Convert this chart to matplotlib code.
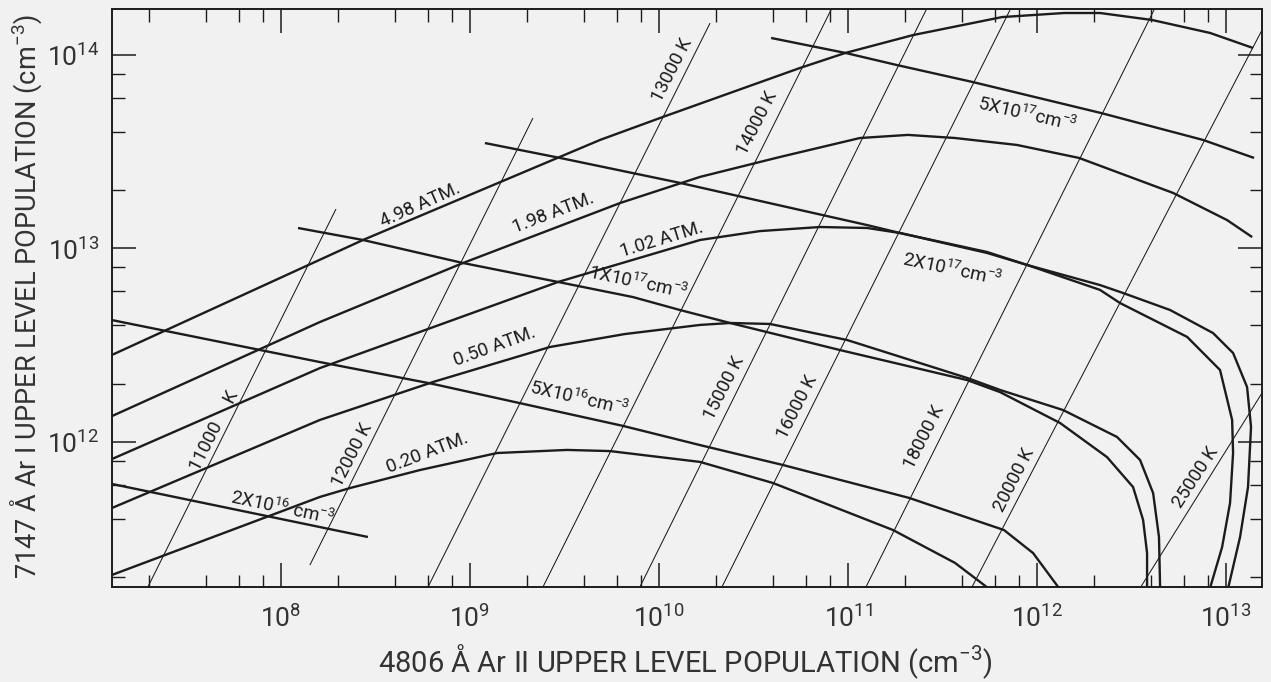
import matplotlib
matplotlib.use("Agg")
import matplotlib.pyplot as plt
import numpy as np
from matplotlib.ticker import LogLocator, FuncFormatter, NullFormatter

# all populations stored as log10(cm^-3)
# x: 4806 A Ar II upper level, y: 7147 A Ar I upper level

# --- constant pressure curves ---
ATM_498_X = [7.106, 8.434, 9.688, 10.021, 10.746, 10.984, 11.344, 11.815, 12.143, 12.333, 12.608, 12.915, 13.143]
ATM_498_Y = [12.450, 13.044, 13.561, 13.680, 13.933, 14.010, 14.103, 14.196, 14.217, 14.217, 14.181, 14.114, 14.036]

ATM_198_X = [7.106, 8.206, 8.963, 9.794, 10.217, 10.640, 11.063, 11.317, 11.566, 11.894, 12.222, 12.720, 13.005, 13.138]
ATM_198_Y = [12.134, 12.620, 12.925, 13.235, 13.370, 13.473, 13.571, 13.587, 13.571, 13.535, 13.468, 13.287, 13.147, 13.059]

ATM_102_X = [7.106, 8.206, 9.466, 10.217, 10.534, 10.852, 11.101, 11.275, 11.735, 11.947, 12.333, 12.455,
             12.704, 12.931, 13.037, 13.111, 13.132, 13.116, 13.074, 13.011]
ATM_102_Y = [11.912, 12.382, 12.827, 13.044, 13.090, 13.111, 13.106, 13.080, 12.977, 12.915, 12.811, 12.770,
             12.682, 12.563, 12.460, 12.284, 12.078, 11.767, 11.509, 11.245]

ATM_050_X = [7.106, 8.206, 8.804, 9.423, 9.820, 10.217, 10.376, 10.587, 10.995, 11.630, 11.804, 12.138,
             12.423, 12.545, 12.614, 12.645, 12.651]
ATM_050_Y = [11.659, 12.114, 12.310, 12.491, 12.558, 12.605, 12.615, 12.610, 12.527, 12.331, 12.269, 12.165,
             12.026, 11.907, 11.736, 11.509, 11.245]

ATM_020_X = [7.106, 8.206, 8.365, 8.735, 9.143, 9.513, 9.741, 10.217, 10.603, 11.238, 11.566, 11.741]
ATM_020_Y = [11.313, 11.716, 11.762, 11.855, 11.943, 11.959, 11.953, 11.897, 11.788, 11.545, 11.375, 11.245]

# --- constant electron density curves ---
NE_2E16_X = [7.106, 8.460]
NE_2E16_Y = [11.783, 11.509]

NE_5E16_X = [7.106, 8.206, 8.804, 9.810, 10.217, 10.656, 11.323, 11.825, 11.979, 12.116]
NE_5E16_Y = [12.630, 12.413, 12.300, 12.083, 11.984, 11.881, 11.711, 11.545, 11.426, 11.245]

NE_1E17_X = [8.090, 8.434, 8.963, 9.466, 9.862, 10.111, 10.376, 10.958, 11.630, 11.804, 12.122,
             12.370, 12.508, 12.561, 12.582, 12.582]
NE_1E17_Y = [13.106, 13.044, 12.925, 12.827, 12.749, 12.682, 12.615, 12.475, 12.320, 12.258, 12.098,
             11.922, 11.767, 11.597, 11.426, 11.245]

NE_2E17_X = [9.079, 9.476, 10.111, 10.746, 11.101, 11.275, 11.735, 11.947, 12.333, 12.439, 12.794,
             12.968, 13.032, 13.037, 13.021, 12.979, 12.915]
NE_2E17_Y = [13.545, 13.468, 13.339, 13.199, 13.121, 13.080, 12.982, 12.915, 12.786, 12.718, 12.543,
             12.372, 12.114, 11.943, 11.685, 11.457, 11.245]

NE_5E17_X = [10.593, 10.989, 11.259, 11.661, 12.339, 12.878, 13.148]
NE_5E17_Y = [14.088, 14.010, 13.948, 13.860, 13.700, 13.561, 13.468]

# --- isotherms (straight on log-log), end points ---
TEMPS = ["11000", "12000", "13000", "14000", "15000", "16000", "18000", "20000", "25000"]
T_X0 = [7.296, 8.153, 8.778, 9.386, 9.899, 10.333, 11.095, 11.656, 12.545]
T_Y0 = [11.251, 11.364, 11.251, 11.251, 11.251, 11.251, 11.251, 11.251, 11.245]
T_X1 = [8.291, 9.333, 10.270, 10.910, 11.413, 11.857, 12.619, 13.190, 13.190]
T_Y1 = [13.204, 13.674, 14.165, 14.233, 14.233, 14.233, 14.233, 14.129, 12.253]

X_DECADES = [8, 9, 10, 11, 12, 13]
Y_DECADES = [12, 13, 14]
X_RANGE = (7.106, 13.190)
Y_RANGE = (11.2506, 14.2377)

BG = "#f1f1f1"
INK = "#1c1c1c"
FONT = ["Roboto", "DejaVu Sans"]


def _curve(ax, lx, ly, lw=1.7):
    ax.plot(10 ** np.array(lx), 10 ** np.array(ly), color=INK, lw=lw,
            solid_capstyle="butt", solid_joinstyle="round")


def _label(ax, lx, ly, text, rot, size=13.5):
    ax.text(10 ** lx, 10 ** ly, text, rotation=rot, rotation_mode="anchor",
            ha="center", va="center", fontsize=size, color=INK, family=FONT)


def main() -> None:
    plt.rcParams["font.family"] = FONT
    plt.rcParams["mathtext.default"] = "regular"

    fig = plt.figure(figsize=(12.71, 6.82), dpi=100)
    fig.set_facecolor(BG)
    ax = fig.add_axes([112 / 1271, 1 - 587 / 682, 1150 / 1271, 578 / 682])
    ax.set_facecolor(BG)
    ax.set_xscale("log")
    ax.set_yscale("log")
    ax.set_xlim(10 ** X_RANGE[0], 10 ** X_RANGE[1])
    ax.set_ylim(10 ** Y_RANGE[0], 10 ** Y_RANGE[1])

    # isotherms, thin
    for x0, y0, x1, y1 in zip(T_X0, T_Y0, T_X1, T_Y1):
        _curve(ax, [x0, x1], [y0, y1], lw=0.75)

    for lx, ly in [(ATM_498_X, ATM_498_Y), (ATM_198_X, ATM_198_Y), (ATM_102_X, ATM_102_Y),
                   (ATM_050_X, ATM_050_Y), (ATM_020_X, ATM_020_Y),
                   (NE_2E16_X, NE_2E16_Y), (NE_5E16_X, NE_5E16_Y), (NE_1E17_X, NE_1E17_Y),
                   (NE_2E17_X, NE_2E17_Y), (NE_5E17_X, NE_5E17_Y)]:
        _curve(ax, lx, ly)

    # pressure labels
    _label(ax, 8.735, 13.225, "4.98 ATM.", 24)
    _label(ax, 9.439, 13.183, "1.98 ATM.", 21)
    _label(ax, 10.016, 13.044, "1.02 ATM.", 17)
    _label(ax, 9.132, 12.491, "0.50 ATM.", 20)
    _label(ax, 8.772, 11.943, "0.20 ATM.", 21)

    # density labels
    _label(ax, 8.005, 11.659, r"2X10$^{16}$ cm$^{-3}$", -12)
    _label(ax, 9.577, 12.227, r"5X10$^{16}$cm$^{-3}$", -13)
    _label(ax, 9.889, 12.822, r"1X10$^{17}$cm$^{-3}$", -12)
    _label(ax, 11.550, 12.889, r"2X10$^{17}$cm$^{-3}$", -12)
    _label(ax, 11.947, 13.690, r"5X10$^{17}$cm$^{-3}$", -13)

    # temperature labels
    t_pos = [(7.646, 12.057), (8.376, 11.933), (10.069, 13.922), (10.519, 13.649), (10.344, 12.279),
             (10.730, 12.181), (11.402, 12.026), (11.878, 11.804), (12.836, 11.819)]
    for name, (lx, ly) in zip(TEMPS, t_pos):
        text = f"{name}     K" if name == "11000" else f"{name} K"
        _label(ax, lx, ly, text, 57 if name == "25000" else 63)

    # axes, ticks
    fmt = FuncFormatter(lambda v, _: f"$10^{{{int(round(np.log10(v)))}}}$")
    ax.set_xticks([10.0 ** d for d in X_DECADES])
    ax.set_yticks([10.0 ** d for d in Y_DECADES])
    for axis in (ax.xaxis, ax.yaxis):
        axis.set_minor_locator(LogLocator(base=10, subs=(2, 4, 6, 8), numticks=20))
        axis.set_major_formatter(fmt)
        axis.set_minor_formatter(NullFormatter())
    ax.tick_params(which="both", direction="in", top=True, right=True, color=INK)
    ax.tick_params(which="major", length=17, width=1.1, labelsize=19, labelcolor="#333")
    ax.tick_params(which="minor", length=9, width=1.0)
    ax.tick_params(axis="x", which="major", pad=13)
    ax.tick_params(axis="y", which="major", pad=9)
    for sp in ax.spines.values():
        sp.set_linewidth(1.4)
        sp.set_color(INK)

    fig.text(685 / 1271, 1 - 662 / 682, r"4806 Å Ar II UPPER LEVEL POPULATION (cm$^{-3}$)",
             ha="center", va="center", fontsize=21, color="#333")
    fig.text(26 / 1271, 1 - 297 / 682, r"7147 Å Ar I UPPER LEVEL POPULATION (cm$^{-3}$)",
             ha="center", va="center", rotation=90, fontsize=19.5, color="#333")

    fig.savefig("out.png", dpi=100, facecolor=BG)
    plt.close(fig)


if __name__ == "__main__":
    main()
